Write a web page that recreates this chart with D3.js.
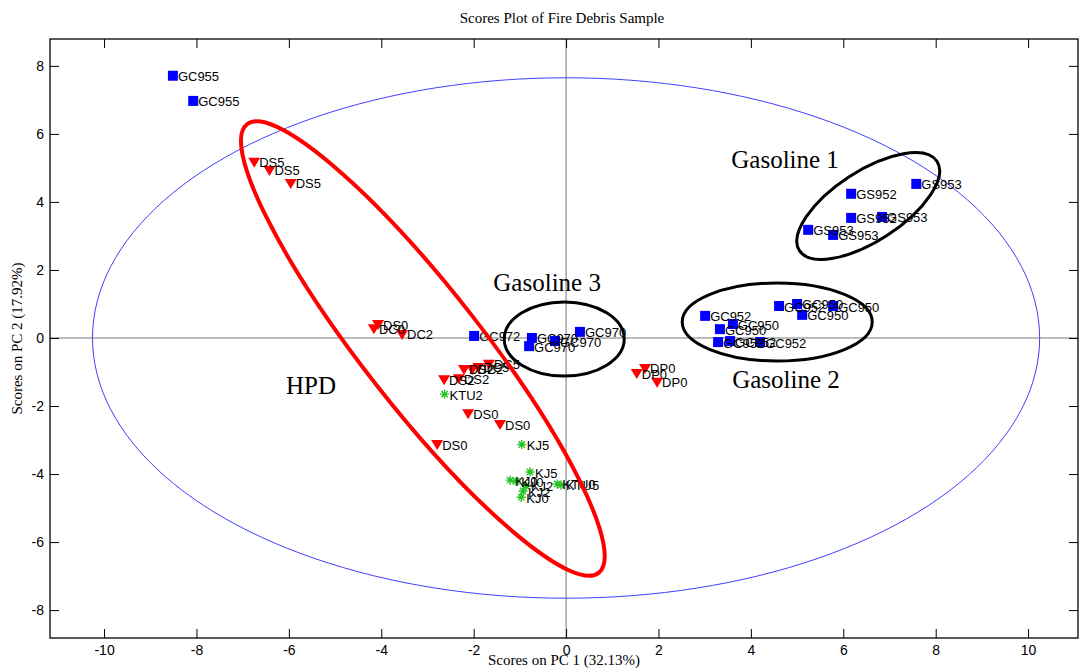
<!DOCTYPE html>
<html lang="en">
<head>
    <meta charset="UTF-8">
    <title>Scores Plot of Fire Debris Sample</title>
    <script src="https://d3js.org/d3.v7.min.js"></script>
    <style>
        body{ margin:0; background:#fff; }
        .tick text{ font-family:"Liberation Sans", Arial, sans-serif; font-size:14px; }
        .ptlabel{ font-family:"Liberation Sans", Arial, sans-serif; font-size:13px; }
        .serif{ font-family:"Liberation Serif", "Times New Roman", serif; }
    </style>
</head>
<body>
<svg id="main" width="1079" height="669"></svg>
<script>
    // gasoline samples (blue squares)
    let gasLabels = ['GC955','GC955',
        'GS953','GS952','GS952','GS953','GS953','GS953',
        'GC952','GC950','GC950','GC952','GC952','GC952','GC952','GC950','GC950','GC950',
        'GC972','GC970','GC970','GC970','GC970'];
    let gasX = [-8.51,-8.07,
        7.58,6.17,6.17,6.84,5.24,5.78,
        3.01,3.61,3.33,3.29,3.55,4.20,4.61,5.00,5.11,5.78,
        -1.99,-0.74,-0.80,-0.24,0.30];
    let gasY = [7.71,6.97,
        4.53,4.24,3.53,3.56,3.18,3.03,
        0.65,0.41,0.26,-0.12,-0.09,-0.12,0.94,1.00,0.68,0.94,
        0.06,0.00,-0.24,-0.09,0.18];

    // HPD samples (red triangles)
    let hpdLabels = ['DS5','DS5','DS5','DS0','DC0','DC2',
        'DS2','DS2','DS2','DC2','DC5','DC5',
        'DS0','DS0','DS0','DP0','DP0','DP0'];
    let hpdX = [-6.75,-6.42,-5.96,-4.07,-4.16,-3.55,
        -2.64,-2.32,-2.21,-2.03,-1.90,-1.67,
        -2.12,-1.43,-2.79,1.53,1.71,1.97];
    let hpdY = [5.18,4.94,4.56,0.41,0.29,0.12,
        -1.21,-1.18,-0.91,-0.91,-0.85,-0.76,
        -2.21,-2.53,-3.12,-1.03,-0.88,-1.29];

    // kerosene samples (green stars)
    let kerLabels = ['KTU2','KJ5','KJ0','KJ0','KJ5','KJ2','KJ2','KJ0','KTU0','KTU5'];
    let kerX = [-2.63,-0.96,-1.21,-1.08,-0.78,-0.87,-0.93,-0.97,-0.19,-0.11];
    let kerY = [-1.65,-3.13,-4.18,-4.21,-3.94,-4.35,-4.50,-4.68,-4.29,-4.32];

    let xTicks = [-10,-8,-6,-4,-2,0,2,4,6,8,10];
    let yTicks = [-8,-6,-4,-2,0,2,4,6,8];

    // hand drawn group ellipses: centre in data units, radii in px, rotation in deg
    let groupEllipses = [
        {cx:-3.10, cy:-0.31, rx:285, ry:59, rot:51.9, color:'#ff0000', w:4},
        {cx:-0.04, cy:-0.03, rx:60, ry:37, rot:0, color:'#000', w:3},
        {cx:4.57, cy:0.47, rx:95, ry:39, rot:0, color:'#000', w:3},
        {cx:6.54, cy:3.88, rx:82, ry:35, rot:-33, color:'#000', w:3}
    ];
    let groupNames = ['HPD','Gasoline 3','Gasoline 2','Gasoline 1'];
    let groupNameX = [-5.52,-0.41,4.76,4.74];
    let groupNameY = [-1.41,1.62,-1.21,5.24];

    // 95% confidence limit
    let limitA = 10.25, limitB = 7.65;

    let svg = d3.select('svg#main');
    let box = {left:50, right:1078, top:39, bottom:638};

    let xScale = d3.scaleLinear().domain([-11.17, 11.08]).range([box.left, box.right]);
    let yScale = d3.scaleLinear().domain([-8.82, 8.79]).range([box.bottom, box.top]);
    let plainNum = function(d){ return String(d); };

    // confidence ellipse
    let limitPts = d3.range(0, 361, 2).map(function(a){
        let t = a * Math.PI / 180;
        return [limitA * Math.cos(t), limitB * Math.sin(t)];
    });
    svg.append('path')
        .datum(limitPts)
        .attr('d', d3.line().x(function(d){return xScale(d[0]);}).y(function(d){return yScale(d[1]);}))
        .attr('fill', 'none')
        .attr('stroke', '#4040ff')
        .attr('stroke-width', 1);

    // zero lines
    svg.append('line')
        .attr('x1', xScale(0)).attr('x2', xScale(0))
        .attr('y1', box.top).attr('y2', box.bottom)
        .attr('stroke', '#555').attr('stroke-width', 0.8);
    svg.append('line')
        .attr('x1', box.left).attr('x2', box.right)
        .attr('y1', yScale(0)).attr('y2', yScale(0))
        .attr('stroke', '#555').attr('stroke-width', 0.8);

    // axes, MATLAB style box with inward ticks
    let tickLen = 9;
    svg.append('g')
        .attr('transform', 'translate(0,' + box.bottom + ')')
        .call(d3.axisBottom(xScale).tickValues(xTicks).tickFormat(plainNum).tickSizeInner(-tickLen).tickSizeOuter(0).tickPadding(7))
        .call(function(g){ g.select('.domain').remove(); });
    svg.append('g')
        .attr('transform', 'translate(0,' + box.top + ')')
        .call(d3.axisTop(xScale).tickValues(xTicks).tickSizeInner(-tickLen).tickSizeOuter(0).tickFormat(''))
        .call(function(g){ g.select('.domain').remove(); });
    svg.append('g')
        .attr('transform', 'translate(' + box.left + ',0)')
        .call(d3.axisLeft(yScale).tickValues(yTicks).tickFormat(plainNum).tickSizeInner(-tickLen).tickSizeOuter(0).tickPadding(6))
        .call(function(g){ g.select('.domain').remove(); });
    svg.append('g')
        .attr('transform', 'translate(' + box.right + ',0)')
        .call(d3.axisRight(yScale).tickValues(yTicks).tickSizeInner(-tickLen).tickSizeOuter(0).tickFormat(''))
        .call(function(g){ g.select('.domain').remove(); });
    svg.selectAll('.tick line').attr('stroke', '#000');
    svg.selectAll('.tick text').attr('fill', '#000');

    svg.append('rect')
        .attr('x', box.left).attr('y', box.top)
        .attr('width', box.right - box.left).attr('height', box.bottom - box.top)
        .attr('fill', 'none').attr('stroke', '#000').attr('stroke-width', 1.3);

    // markers
    function addLabels(labels, xs, ys){
        svg.append('g').selectAll('text')
            .data(labels)
            .enter()
            .append('text')
            .attr('class', 'ptlabel')
            .attr('x', function(d,i){return xScale(xs[i]) + 5;})
            .attr('y', function(d,i){return yScale(ys[i]) + 1;})
            .attr('dominant-baseline', 'central')
            .text(function(d){return d;});
    }

    svg.append('g').selectAll('rect')
        .data(gasX)
        .enter()
        .append('rect')
        .attr('x', function(d){return xScale(d) - 5;})
        .attr('y', function(d,i){return yScale(gasY[i]) - 5;})
        .attr('width', 10).attr('height', 10)
        .attr('fill', '#0000ff');

    svg.append('g').selectAll('path')
        .data(hpdX)
        .enter()
        .append('path')
        .attr('transform', function(d,i){return 'translate(' + xScale(d) + ',' + yScale(hpdY[i]) + ')';})
        .attr('d', 'M-6,-4L6,-4L0,6Z')
        .attr('fill', '#ff0000');

    let star = 'M-4.5,0L4.5,0M0,-4.5L0,4.5M-3.2,-3.2L3.2,3.2M-3.2,3.2L3.2,-3.2';
    svg.append('g').selectAll('path')
        .data(kerX)
        .enter()
        .append('path')
        .attr('transform', function(d,i){return 'translate(' + xScale(d) + ',' + yScale(kerY[i]) + ')';})
        .attr('d', star)
        .attr('stroke', '#22c322')
        .attr('stroke-width', 1.4);

    addLabels(gasLabels, gasX, gasY);
    addLabels(hpdLabels, hpdX, hpdY);
    addLabels(kerLabels, kerX, kerY);

    // group ellipses and names
    svg.append('g').selectAll('ellipse')
        .data(groupEllipses)
        .enter()
        .append('ellipse')
        .attr('transform', function(d){return 'translate(' + xScale(d.cx) + ',' + yScale(d.cy) + ') rotate(' + d.rot + ')';})
        .attr('rx', function(d){return d.rx;})
        .attr('ry', function(d){return d.ry;})
        .attr('fill', 'none')
        .attr('stroke', function(d){return d.color;})
        .attr('stroke-width', function(d){return d.w;});

    svg.append('g').selectAll('text')
        .data(groupNames)
        .enter()
        .append('text')
        .attr('class', 'serif')
        .attr('x', function(d,i){return xScale(groupNameX[i]);})
        .attr('y', function(d,i){return yScale(groupNameY[i]);})
        .attr('text-anchor', 'middle')
        .attr('dominant-baseline', 'central')
        .style('font-size', '25px')
        .text(function(d){return d;});

    // titles
    svg.append('text')
        .attr('class', 'serif')
        .attr('x', 562).attr('y', 18)
        .attr('text-anchor', 'middle')
        .attr('dominant-baseline', 'central')
        .style('font-size', '15px')
        .text('Scores Plot of Fire Debris Sample');
    svg.append('text')
        .attr('class', 'serif')
        .attr('x', 564).attr('y', 660)
        .attr('text-anchor', 'middle')
        .attr('dominant-baseline', 'central')
        .style('font-size', '15px')
        .text('Scores on PC 1 (32.13%)');
    svg.append('text')
        .attr('class', 'serif')
        .attr('transform', 'translate(17,' + ((box.top + box.bottom) / 2) + ') rotate(-90)')
        .attr('text-anchor', 'middle')
        .attr('dominant-baseline', 'central')
        .style('font-size', '15px')
        .text('Scores on PC 2 (17.92%)');
</script>
</body>
</html>
